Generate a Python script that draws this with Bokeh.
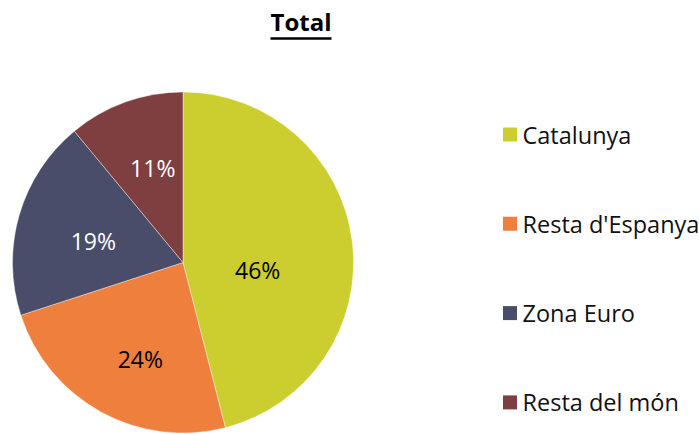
import numpy as np
from bokeh.plotting import figure
from bokeh.models import Range1d, ColumnDataSource
from bokeh.core.properties import value
from bokeh.embed import file_html
from bokeh.resources import INLINE

# ---- data ----
categories = ["Catalunya", "Resta d'Espanya", "Zona Euro", "Resta del món"]
shares = [46, 24, 19, 11]
colors = ["#CBCE2E", "#EF7F3D", "#4A4D6A", "#7F3F41"]
label_colors = ["black", "black", "white", "white"]
title_text = "Total"

# ---- layout (pixel coordinates: y = 434 - screen_y) ----
W, H = 699, 434
cx, cy, R = 182.5, 434 - 262, 170.5
label_rfrac = [0.44, 0.62, 0.54, 0.58]
label_dang = [-13.0, 5.0, 3.0, -2.0]  # degrees tweak from mid-angle

p = figure(width=W, height=H, output_backend="svg", toolbar_location=None,
           x_range=Range1d(0, W), y_range=Range1d(0, H),
           min_border=0, match_aspect=False)
p.axis.visible = False
p.grid.visible = False
p.outline_line_color = None
p.background_fill_color = "white"
p.border_fill_color = "white"

vals = np.array(shares, dtype=float)
frac = vals / vals.sum()
ends = np.pi / 2 - 2 * np.pi * np.cumsum(frac)
starts = np.concatenate([[np.pi / 2], ends[:-1]])
mids = (starts + ends) / 2

src = ColumnDataSource(dict(start=starts, end=ends, color=colors, cat=categories))
p.wedge(x=cx, y=cy, radius=R, start_angle="end", end_angle="start",
        fill_color="color", line_color="white", line_width=0.4, source=src)

lab_ang = mids + np.radians(label_dang)
lx = cx + R * np.array(label_rfrac) * np.cos(lab_ang)
ly = cy + R * np.array(label_rfrac) * np.sin(lab_ang)
labels = [f"{s}%" for s in shares]
p.text(x=lx, y=ly, text=labels, text_color=label_colors,
       text_font=value("Open Sans"), text_font_size="23px",
       text_align="center", text_baseline="middle")

# legend
ly0, dy = 434 - 134, 89.3
leg_y = [ly0 - i * dy for i in range(len(categories))]
p.rect(x=[509.5] * len(categories), y=leg_y, width=14, height=14,
       fill_color=colors, line_color=None)
p.text(x=[522] * len(categories), y=leg_y, text=categories, text_color="#111111",
       text_font=value("Open Sans"), text_font_size="23.5px",
       text_align="left", text_baseline="middle")

# title
tx, ty = 300.5, 434 - 21
p.text(x=[tx], y=[ty], text=[title_text], text_font=value("Open Sans"),
       text_font_size="24px", text_font_style="bold", text_color="black",
       text_align="center", text_baseline="middle")
p.segment(x0=[tx - 30.5], y0=[434 - 38], x1=[tx + 30.5], y1=[434 - 38],
          line_color="black", line_width=2.5)

open("out.html", "w").write(file_html(p, INLINE))
